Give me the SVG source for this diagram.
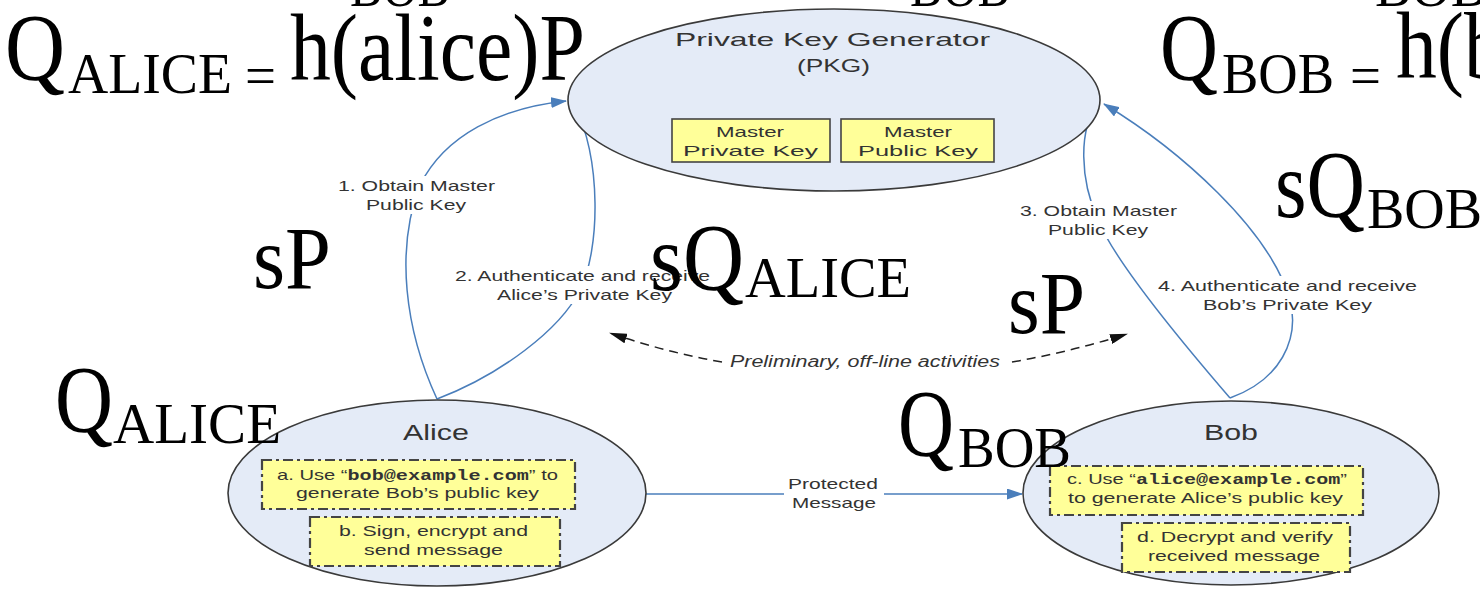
<svg xmlns="http://www.w3.org/2000/svg" width="1480" height="589" viewBox="0 0 1480 589">
<style>
.node{fill:#e4ebf7;stroke:#3a3a3a;stroke-width:1.6}
.kbox{fill:#ffff99;stroke:#444;stroke-width:1.6}
.dbox{fill:#ffff99;stroke:#444;stroke-width:2.2;stroke-dasharray:10 4 3 4}
.lbl{font-family:"Liberation Sans",Arial,sans-serif;fill:#333}
.mono{font-family:"Liberation Mono","Courier New",monospace;font-weight:bold}
.conn{fill:none;stroke:#4a7ebb;stroke-width:1.5}
.dash{fill:none;stroke:#222;stroke-width:1.5;stroke-dasharray:9 6}
.eq{font-family:"Liberation Serif","Times New Roman",serif;fill:#000}
</style>
<defs>
<marker id="ab" markerUnits="userSpaceOnUse" markerWidth="16" markerHeight="11" viewBox="0 0 16 11" refX="15" refY="5.5" orient="auto"><path d="M0,0 L16,5.5 L0,11 z" fill="#4a7ebb"/></marker>
<marker id="ak" markerUnits="userSpaceOnUse" markerWidth="18" markerHeight="10" viewBox="0 0 18 10" refX="17" refY="5" orient="auto"><path d="M0,0 L18,5 L0,10 z" fill="#111"/></marker>
</defs>
<rect width="1480" height="589" fill="#fff"/>

<g id="connectors">
<path class="conn" d="M437,399 C405,330 395,250 420,185 C445,135 500,108 566,101" marker-end="url(#ab)"/>
<path class="conn" d="M437,399 C500,375 560,330 580,290 C600,250 602,160 574,104" marker-end="url(#ab)"/>
<path class="conn" d="M1230,398 C1180,340 1115,262 1098,220 C1080,180 1078,130 1098,103" marker-end="url(#ab)"/>
<path class="conn" d="M1230,398 C1280,380 1300,340 1290,300 C1270,230 1180,150 1104,104" marker-end="url(#ab)"/>
<path class="conn" d="M646,494 L1022,494" marker-end="url(#ab)"/>
<path class="dash" d="M722,362 Q665,352 610,333" marker-end="url(#ak)"/>
<path class="dash" d="M1012,362 Q1070,352 1127,334" marker-end="url(#ak)"/>
<rect x="336" y="176" width="162" height="38" fill="#fff"/>
<rect x="452" y="266" width="262" height="38" fill="#fff"/>
<rect x="1016" y="201" width="165" height="38" fill="#fff"/>
<rect x="1168" y="276" width="253" height="38" fill="#fff"/>
<rect x="784" y="474" width="100" height="38" fill="#fff"/>
<text class="lbl" font-size="15" x="338" y="191" textLength="157" lengthAdjust="spacingAndGlyphs">1. Obtain Master</text>
<text class="lbl" font-size="15" x="366" y="210" textLength="100" lengthAdjust="spacingAndGlyphs">Public Key</text>
<text class="lbl" font-size="15" x="455" y="281" textLength="255" lengthAdjust="spacingAndGlyphs">2. Authenticate and receive</text>
<text class="lbl" font-size="15" x="497" y="300" textLength="175" lengthAdjust="spacingAndGlyphs">Alice’s Private Key</text>
<text class="lbl" font-size="15" x="1020" y="216" textLength="157" lengthAdjust="spacingAndGlyphs">3. Obtain Master</text>
<text class="lbl" font-size="15" x="1048" y="235" textLength="100" lengthAdjust="spacingAndGlyphs">Public Key</text>
<text class="lbl" font-size="15" x="1158" y="291" textLength="259" lengthAdjust="spacingAndGlyphs">4. Authenticate and receive</text>
<text class="lbl" font-size="15" x="1203" y="310" textLength="169" lengthAdjust="spacingAndGlyphs">Bob’s Private Key</text>
<text class="lbl" font-size="15" x="788" y="489" textLength="90" lengthAdjust="spacingAndGlyphs">Protected</text>
<text class="lbl" font-size="15" x="792" y="508" textLength="84" lengthAdjust="spacingAndGlyphs">Message</text>
<text class="lbl" font-size="16" font-style="italic" x="730" y="367" textLength="270" lengthAdjust="spacingAndGlyphs">Preliminary, off-line activities</text>
</g>

<g id="pkg">
<ellipse class="node" cx="834" cy="100" rx="266" ry="91"/>
<text class="lbl" font-size="19" x="675" y="46" textLength="315" lengthAdjust="spacingAndGlyphs">Private Key Generator</text>
<text class="lbl" font-size="19" x="797" y="72" textLength="73" lengthAdjust="spacingAndGlyphs">(PKG)</text>
<rect class="kbox" x="672" y="119" width="158" height="43"/>
<rect class="kbox" x="841" y="119" width="153" height="43"/>
<text class="lbl" font-size="15" x="716" y="137" textLength="68" lengthAdjust="spacingAndGlyphs">Master</text>
<text class="lbl" font-size="15" x="683" y="156" textLength="135" lengthAdjust="spacingAndGlyphs">Private Key</text>
<text class="lbl" font-size="15" x="884" y="137" textLength="68" lengthAdjust="spacingAndGlyphs">Master</text>
<text class="lbl" font-size="15" x="858" y="156" textLength="120" lengthAdjust="spacingAndGlyphs">Public Key</text>
</g>

<g id="alice">
<ellipse class="node" cx="437" cy="493" rx="209" ry="93"/>
<text class="lbl" font-size="22" x="403" y="440" textLength="66" lengthAdjust="spacingAndGlyphs">Alice</text>
<rect class="dbox" x="262" y="460" width="313" height="49"/>
<text class="lbl" font-size="15" x="277" y="480" textLength="281" lengthAdjust="spacingAndGlyphs">a. Use “<tspan class="mono">bob@example.com</tspan>” to</text>
<text class="lbl" font-size="15" x="296" y="498" textLength="243" lengthAdjust="spacingAndGlyphs">generate Bob’s public key</text>
<rect class="dbox" x="310" y="517" width="250" height="49"/>
<text class="lbl" font-size="15" x="339" y="536" textLength="189" lengthAdjust="spacingAndGlyphs">b. Sign, encrypt and</text>
<text class="lbl" font-size="15" x="364" y="555" textLength="139" lengthAdjust="spacingAndGlyphs">send message</text>
</g>

<g id="bob">
<ellipse class="node" cx="1231" cy="493" rx="208" ry="92"/>
<text class="lbl" font-size="22" x="1204" y="440" textLength="54" lengthAdjust="spacingAndGlyphs">Bob</text>
<rect class="dbox" x="1050" y="466" width="313" height="49"/>
<text class="lbl" font-size="15" x="1067" y="484" textLength="280" lengthAdjust="spacingAndGlyphs">c. Use “<tspan class="mono">alice@example.com</tspan>”</text>
<text class="lbl" font-size="15" x="1068" y="503" textLength="275" lengthAdjust="spacingAndGlyphs">to generate Alice’s public key</text>
<rect class="dbox" x="1122" y="523" width="228" height="49"/>
<text class="lbl" font-size="15" x="1137" y="542" textLength="196" lengthAdjust="spacingAndGlyphs">d. Decrypt and verify</text>
<text class="lbl" font-size="15" x="1148" y="561" textLength="172" lengthAdjust="spacingAndGlyphs">received message</text>
</g>

<g id="overlay">
<text class="eq" font-size="57" x="350" y="6" textLength="100" lengthAdjust="spacingAndGlyphs">BOB</text>
<text class="eq" font-size="57" x="910" y="6" textLength="100" lengthAdjust="spacingAndGlyphs">BOB</text>
<text class="eq" font-size="57" x="1375" y="6" textLength="112" lengthAdjust="spacingAndGlyphs">BOB</text>
<text class="eq" font-size="95" x="5" y="80" textLength="60" lengthAdjust="spacingAndGlyphs">Q</text>
<text class="eq" font-size="57" x="68" y="93" textLength="164" lengthAdjust="spacingAndGlyphs">ALICE</text>
<text class="eq" font-size="57" x="245" y="95" textLength="31" lengthAdjust="spacingAndGlyphs">=</text>
<text class="eq" font-size="95" x="290" y="80" textLength="295" lengthAdjust="spacingAndGlyphs">h(alice)P</text>
<text class="eq" font-size="95" x="1160" y="80" textLength="58" lengthAdjust="spacingAndGlyphs">Q</text>
<text class="eq" font-size="57" x="1222" y="93" textLength="112" lengthAdjust="spacingAndGlyphs">BOB</text>
<text class="eq" font-size="57" x="1350" y="95" textLength="31" lengthAdjust="spacingAndGlyphs">=</text>
<text class="eq" font-size="95" x="1396" y="78" textLength="263" lengthAdjust="spacingAndGlyphs">h(bob)P</text>
<text class="eq" font-size="88" x="253" y="288" textLength="78" lengthAdjust="spacingAndGlyphs">sP</text>
<text class="eq" font-size="95" x="650" y="290" textLength="94" lengthAdjust="spacingAndGlyphs">sQ</text>
<text class="eq" font-size="57" x="745" y="297" textLength="166" lengthAdjust="spacingAndGlyphs">ALICE</text>
<text class="eq" font-size="88" x="1008" y="333" textLength="77" lengthAdjust="spacingAndGlyphs">sP</text>
<text class="eq" font-size="95" x="1275" y="217" textLength="90" lengthAdjust="spacingAndGlyphs">sQ</text>
<text class="eq" font-size="57" x="1367" y="228" textLength="115" lengthAdjust="spacingAndGlyphs">BOB</text>
<text class="eq" font-size="95" x="55" y="432" textLength="58" lengthAdjust="spacingAndGlyphs">Q</text>
<text class="eq" font-size="57" x="113" y="443" textLength="168" lengthAdjust="spacingAndGlyphs">ALICE</text>
<text class="eq" font-size="95" x="898" y="456" textLength="56" lengthAdjust="spacingAndGlyphs">Q</text>
<text class="eq" font-size="57" x="958" y="467" textLength="113" lengthAdjust="spacingAndGlyphs">BOB</text>
</g>
</svg>
